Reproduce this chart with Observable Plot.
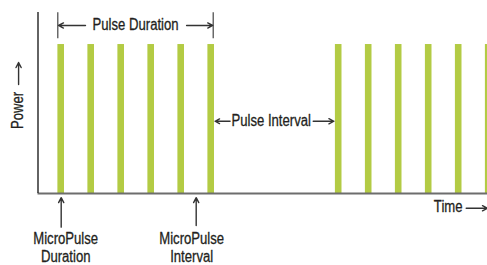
<!DOCTYPE html>
<html>
<head>
<meta charset="utf-8">
<script src="https://cdn.jsdelivr.net/npm/d3@7"></script>
<script src="https://cdn.jsdelivr.net/npm/@observablehq/plot@0.6"></script>
<style>
  html, body { margin: 0; padding: 0; background: #fff; }
  svg { display: block; }
</style>
</head>
<body>
<div id="chart"></div>
<script>
// Pulse centres (time, in micro-pulse periods) and relative power
const pulseTimes = [0, 1, 2, 3, 4, 5, 9.25, 10.25, 11.25, 12.25, 13.25, 14.25];
const pulsePower = [1, 1, 1, 1, 1, 1, 1, 1, 1, 1, 1, 1];
const pulseHalfWidth = 0.11;

// Text labels
const labels = [
  {text: "Pulse Duration", x: 2.48, y: 1.131},
  {text: "Pulse Interval", x: 7.0, y: 0.487},
  {text: "Time", x: 12.9, y: -0.087}
];
const footLabelsTop = [
  {text: "MicroPulse", x: 0.15, y: -0.302},
  {text: "MicroPulse", x: 4.35, y: -0.302}
];
const footLabelsBottom = [
  {text: "Duration", x: 0.15, y: -0.427},
  {text: "Interval", x: 4.35, y: -0.427}
];
const powerLabel = [{text: "Power", x: -1.44, y: 0.557}];

// Annotation arrows (tail -> tip)
const arrows = [
  {x1: 0.81, y1: 1.128, x2: -0.09, y2: 1.128},
  {x1: 4.18, y1: 1.128, x2: 5.05, y2: 1.128},
  {x1: 5.63, y1: 0.485, x2: 5.13, y2: 0.485},
  {x1: 8.4, y1: 0.485, x2: 9.09, y2: 0.485},
  {x1: -1.42, y1: 0.732, x2: -1.42, y2: 0.879},
  {x1: 13.5, y1: -0.099, x2: 14.21, y2: -0.099},
  {x1: 0, y1: -0.226, x2: 0, y2: -0.028},
  {x1: 4.5, y1: -0.215, x2: 4.5, y2: -0.028}
];
const durationTicks = [-0.113, 5.067];

const pulses = pulseTimes.map((t, i) => ({t, p: pulsePower[i]}));
const font = "'Liberation Sans', Arial, sans-serif";
const ink = "#231f20";
const textStyle = {fontSize: 16, fill: ink, stroke: ink, strokeWidth: 0.3};

const chart = Plot.plot({
  width: 487,
  height: 265,
  marginLeft: 37.5,
  marginRight: 0,
  marginTop: 12,
  marginBottom: 72,
  style: {fontFamily: font, background: "#fff"},
  x: {domain: [-0.773, 14.21], axis: null},
  y: {domain: [0, 1.215], axis: null},
  marks: [
    Plot.rectY(pulses, {x1: d => d.t - pulseHalfWidth, x2: d => d.t + pulseHalfWidth, y1: 0, y2: "p", fill: "#b3cb44"}),
    Plot.ruleY([0], {stroke: "#6d6d6d", strokeWidth: 2}),
    Plot.ruleX([-0.773], {stroke: "#222", strokeWidth: 1.4}),
    Plot.ruleX(durationTicks, {y1: 1.038, y2: 1.213, stroke: "#444", strokeWidth: 1.2}),
    Plot.arrow(arrows, {x1: "x1", y1: "y1", x2: "x2", y2: "y2", stroke: "#333", strokeWidth: 1.4, headLength: 6, headAngle: 55}),
    Plot.text(labels, {x: "x", y: "y", text: "text", ...textStyle}),
    Plot.text(footLabelsTop, {x: "x", y: "y", text: "text", ...textStyle}),
    Plot.text(footLabelsBottom, {x: "x", y: "y", text: "text", ...textStyle}),
    Plot.text(powerLabel, {x: "x", y: "y", text: "text", ...textStyle, rotate: -90})
  ]
});
// condense the glyphs horizontally (narrow face look)
d3.select(chart).selectAll("text").each(function() {
  const t = this.getAttribute("transform");
  if (t) this.setAttribute("transform", t + " scale(0.82,1)");
});
document.getElementById("chart").appendChild(chart);
</script>
</body>
</html>
